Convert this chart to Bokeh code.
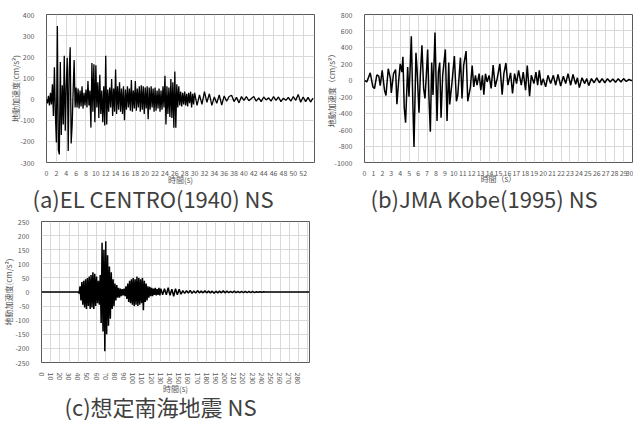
import numpy as np
from bokeh.plotting import figure
from bokeh.layouts import column, row
from bokeh.models import FixedTicker, Range1d
from bokeh.embed import file_html
from bokeh.resources import INLINE

FONT = "Noto Sans CJK JP"

# ---------------- (a) EL CENTRO (1940) NS ----------------
elc_t_main = np.round(np.arange(0, 30, 0.2), 1)          # 0.2 s samples, 0..29.8 s
elc_v_main = [
    0, -20, 15, -30, 30, -25, 70, -80, 150, -70,
    -205, 345, -240, -262, 175, -170, 65, -120, 205, -150,
    60, 195, -245, 130, 245, -210, -120, 40, 185, -40,
    55, -40, 50, -45, 40, -35, 60, -45, 30, -30,
    45, -40, 85, -30, 40, -135, 170, -60, 165, -110,
    160, -40, 80, -90, 115, -70, 40, -110, 60, -125,
    205, -120, 45, -60, 55, -40, 95, -80, 50, -60,
    140, -70, 60, -50, 80, -60, 50, -70, 60, -100,
    45, -50, 60, -40, 50, -55, 90, -60, 40, -45,
    85, -55, 50, -40, 60, -60, 65, -50, 60, -70,
    55, -45, 60, -95, 55, -50, 60, -40, 50, -60,
    55, -55, 40, -45, 50, -60, 40, -50, 60, -40,
    110, -120, 60, -70, 55, -85, 95, -90, 80, -135,
    130, -135, 70, -40, 60, -30, 35, -35, 30, -25,
    35, -30, 25, -35, 30, -20, 35, -40, 25, -25,
]
elc_t_tail = np.arange(30, 54.01, 0.5)                   # 0.5 s samples, 30..54 s
elc_v_tail = [
    30, -30, 20, -25, 35, -15, 25, -30, 10, -20,
    20, -28, 15, -10, 12, 18, -12, 8, -18, 12,
    -6, 12, -8, 3, 12, -10, 6, -12, 10, -4,
    6, -10, 12, -6, 10, -12, 4, -6, 8, -10,
    12, -6, 22, -15, 10, -12, 8, -14, 4,
]
a_xticks = list(range(0, 53, 2))
a_yticks = list(range(-300, 401, 100))

# ---------------- (b) JMA Kobe (1995) NS ----------------
kobe_t = [0, 0.26, 0.64, 0.94, 1.12, 1.38, 1.6, 1.76, 1.98, 2.13, 2.24, 2.4, 2.66, 2.9, 3.0,
          3.25, 3.48, 3.63, 3.82, 4.0, 4.19, 4.3, 4.45, 4.6, 4.83, 4.98, 5.13, 5.24, 5.42,
          5.54, 5.76, 5.87, 6.1, 6.25, 6.43, 6.62, 6.77, 6.92, 7.07, 7.22, 7.37, 7.52, 7.67,
          7.89, 8.12, 8.27, 8.42, 8.57, 8.75, 9.05, 9.24, 9.43, 9.54, 9.8, 10.06, 10.29,
          10.44, 10.74, 10.92, 11.1, 11.37, 11.56, 11.86, 12.05, 12.23, 12.42, 12.6, 12.83,
          13.02, 13.2, 13.36, 13.54, 13.73, 13.95, 14.18, 14.4, 14.63, 14.85, 15.15, 15.41,
          15.6, 15.83, 16.05, 16.35, 16.57, 16.8, 17.02, 17.25, 17.55, 17.77, 18.03, 18.22,
          18.48, 18.67, 18.97, 19.19, 19.38, 19.57, 19.79, 20.0, 20.28, 20.54, 20.84, 21.14,
          21.4, 21.66, 21.96, 22.26, 22.52, 22.78, 23.08, 23.34, 23.64, 23.83, 24.05, 24.35,
          24.65, 24.88, 25.1, 25.4, 25.7, 26.0, 26.3, 26.6, 26.9, 27.2, 27.5, 27.8, 28.1,
          28.4, 28.7, 29.0, 29.3, 29.6, 29.9, 30.0]
kobe_v = [0, -20, 90, -80, -100, 65, 50, -65, 120, -20, -120, -185, 140, 20, -155,
          80, 130, -290, -10, 200, 100, 285, -335, -515, 160, -200, 200, 535, -315,
          -810, 335, 160, -395, 60, 425, -100, -220, 60, 375, -220, -625, 215, -180,
          580, -495, 100, 215, -455, 60, 375, -495, 215, -295, -20, 295, -255,
          -180, 275, -220, 180, 355, -255, -80, 180, -80, 60, -60, 80,
          -120, 60, -175, 80, -20, 60, -100, 185, -80, 20, 200, -175,
          80, 210, -60, 90, -160, 80, -40, 120, -60, 100, -120, 180,
          -195, 60, -40, 100, -60, 120, -60, 20, -80, 60, -40, 60,
          -60, 70, -70, 50, -40, 80, -60, 70, -50, 30, -90, 30,
          -40, 20, -65, 20, -30, 30, -30, 20, -30, 20, -20, 15, -25,
          20, -20, 20, -15, 10, -5, 0]
b_xticks = list(range(0, 31))
b_yticks = list(range(-1000, 801, 200))

# ---------------- (c) 想定南海地震 NS ----------------
nk_t_lead = [0]
nk_v_lead = [0]
nk_t_main = np.arange(40, 131, 1)                        # 1 s samples, 40..130 s
nk_v_main = [
    0, -5, 20, -30, 35, -45, 40, -55, 45, -60,
    50, -50, 55, -60, 60, -55, 70, -60, 65, -50,
    55, -40, 40, -45, 60, -110, 175, -140, 150, -210,
    180, -150, 130, -120, 90, -95, 70, -60, 45, -50,
    30, -30, 25, -20, 15, -20, 12, -15, 10, -12,
    12, -15, 20, -25, 30, -35, 40, -40, 45, -45,
    50, -50, 45, -45, 55, -50, 50, -45, 45, -40,
    50, -65, 40, -35, 30, -30, 20, -20, 18, -15,
    15, -15, 12, -10, 15, -12, 10, -10, 15, -12,
    12,
]
nk_t_tail = np.arange(132, 251, 2)                       # 2 s samples, 132..250 s
nk_v_tail = [
    -10, 12, -10, 15, -12, 10, -15, 12, -10, 10,
    -8, 5, -5, 5, -4, 6, -5, 4, -4, 5,
    -3, 3, -3, 4, -3, 3, -3, 3, -4, 3,
    -3, 3, -3, 4, -3, 3, -2, 2, -2, 3,
    -2, 2, -2, 2, -2, 2, -2, 2, -2, 2,
    -2, 1, -1, 1, -1, 1, 0, 0, 0, 0,
]
nk_t_end = [292]
nk_v_end = [0]
c_xticks = list(range(0, 291, 10))
c_yticks = list(range(-250, 251, 50))


def make_panel(width, height, borders, xr, yr, xticks, yticks, xlabel, ylabel,
               title, title_offset, x_hidden=(), vertical_x=False,
               y_std=6, ylabel_std=2, x_std=1, xlabel_std=-5, title_standoff=0):
    left, right, top, bottom = borders
    p = figure(width=width, height=height, output_backend="svg", toolbar_location=None,
               x_range=Range1d(*xr), y_range=Range1d(*yr),
               min_border_left=left, min_border_right=right,
               min_border_top=top, min_border_bottom=bottom,
               title=title, title_location="below")
    p.background_fill_color = "white"
    p.border_fill_color = "white"
    p.outline_line_color = "#5a5a5a"
    p.outline_line_width = 1

    p.xaxis.ticker = FixedTicker(ticks=xticks)
    p.yaxis.ticker = FixedTicker(ticks=yticks)
    p.xaxis.major_label_overrides = {v: ("" if v in x_hidden else str(v)) for v in xticks}
    p.yaxis.major_label_overrides = {v: str(v) for v in yticks}
    for ax in (p.xaxis[0], p.yaxis[0]):
        ax.axis_line_color = None
        ax.major_tick_line_color = None
        ax.minor_tick_line_color = None
        ax.major_label_text_font = FONT
        ax.major_label_text_font_size = "7px"
        ax.major_label_text_color = "#595959"
        ax.axis_label_text_font = FONT
        ax.axis_label_text_font_size = "8px"
        ax.axis_label_text_font_style = "normal"
        ax.axis_label_text_color = "#595959"
    p.xaxis.axis_label = xlabel
    p.yaxis.axis_label = ylabel
    p.xaxis.major_label_standoff = x_std
    p.yaxis.major_label_standoff = y_std
    p.xaxis.axis_label_standoff = xlabel_std
    p.yaxis.axis_label_standoff = ylabel_std
    if vertical_x:
        p.xaxis.major_label_orientation = "vertical"

    p.xgrid.grid_line_color = "#d9d9d9"
    p.ygrid.grid_line_color = "#d9d9d9"
    p.xgrid.grid_line_width = 1
    p.ygrid.grid_line_width = 1

    p.title.align = "left"
    p.title.offset = title_offset
    p.title.standoff = title_standoff
    p.title.text_font = FONT
    p.title.text_font_size = "22px"
    p.title.text_font_style = "normal"
    p.title.text_color = "#404040"
    return p


# panel (a)
pa = make_panel(320, 215, (46, 6, 14, 53), (0, 54.3), (-300, 400),
                a_xticks, a_yticks, "時間(s)", "地動加速度(cm/s²)",
                "(a)EL CENTRO(1940) NS", -14, ylabel_std=-4, title_standoff=-16)
elc_t = list(elc_t_main) + list(elc_t_tail)
elc_v = elc_v_main + elc_v_tail
pa.line(elc_t, elc_v, line_color="black", line_width=1.3)

# panel (b)
pb = make_panel(313, 215, (44, 1, 14, 50), (0, 30), (-1000, 800),
                b_xticks, b_yticks, "時間（s）", "地動加速度（cm/s²）",
                "(b)JMA Kobe(1995) NS", 6,
                ylabel_std=-5, x_std=1, xlabel_std=-6, title_standoff=-14)
pb.line(kobe_t, kobe_v, line_color="black", line_width=1.5)

# panel (c)
pc = make_panel(320, 206, (35, 11, 6, 59), (0, 292), (-250, 250),
                c_xticks, c_yticks, "時間(s)", "地動加速度(cm/s²)",
                "(c)想定南海地震 NS", 23, x_hidden=(290,), vertical_x=True,
                ylabel_std=-2, x_std=4, xlabel_std=-4, title_standoff=-20)
nk_t = nk_t_lead + list(nk_t_main) + list(nk_t_tail) + nk_t_end
nk_v = nk_v_lead + nk_v_main + nk_v_tail + nk_v_end
pc.line(nk_t, nk_v, line_color="black", line_width=1.5)

layout = column(row(pa, pb), pc)

open("out.html", "w").write(file_html(layout, INLINE))
